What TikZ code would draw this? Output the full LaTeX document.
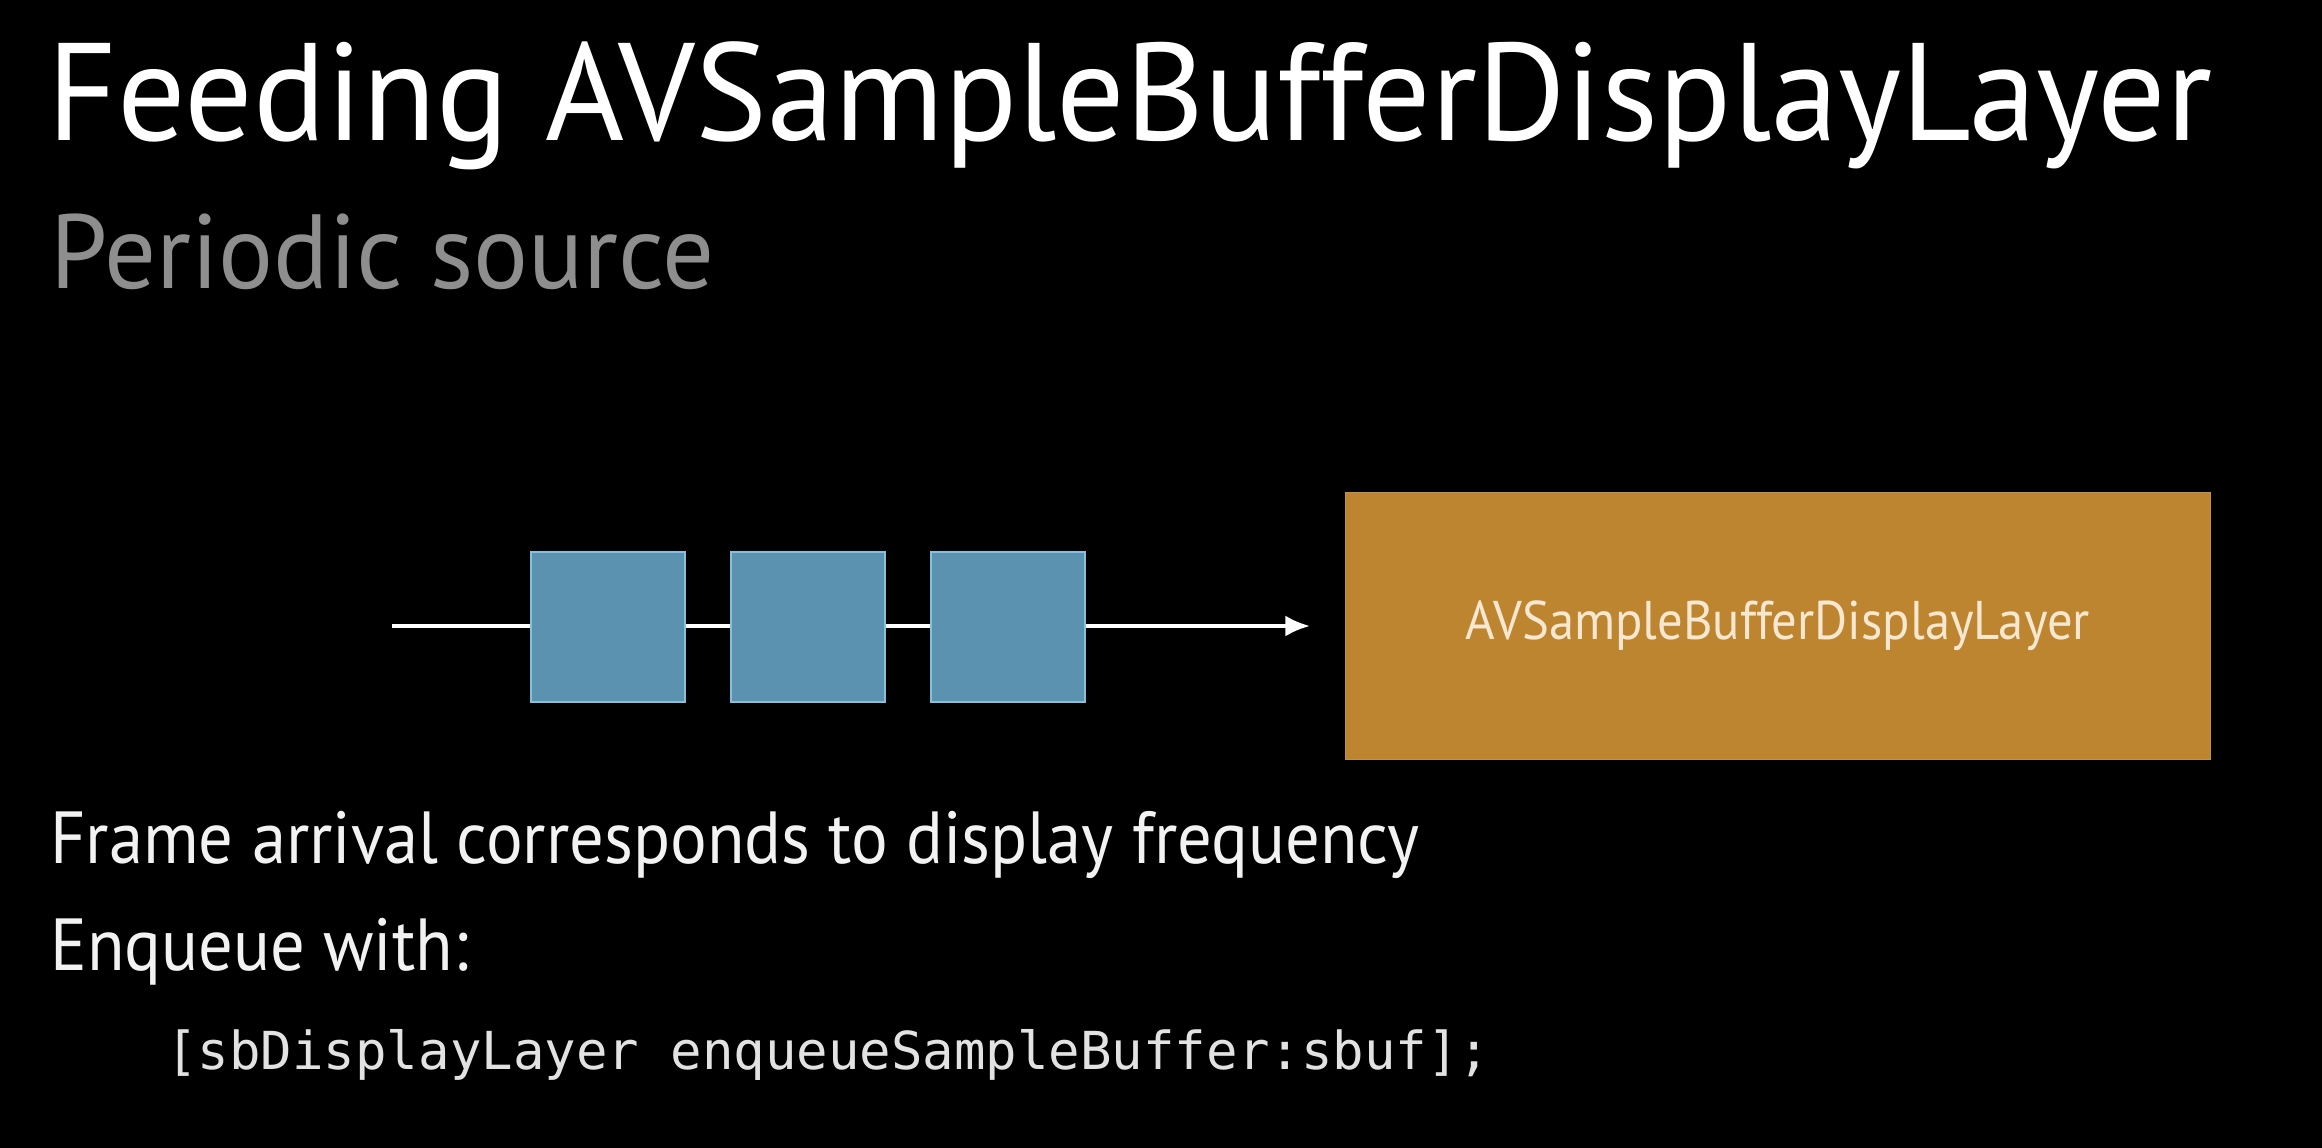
\documentclass[tikz,border=0pt]{standalone}
\usepackage{fontspec}
\setmainfont{PT Sans}
\setmonofont{DejaVu Sans Mono}
\newfontfamily\titlefont[FakeStretch=0.975]{PT Sans}
\newfontfamily\subfont[FakeStretch=0.974]{PT Sans}
\newfontfamily\bodyfont[FakeStretch=0.93]{PT Sans}
\usetikzlibrary{arrows.meta}
\definecolor{bluefill}{HTML}{5A92B0}
\definecolor{blueedge}{HTML}{86C0DC}
\definecolor{orangefill}{HTML}{BE8530}
\definecolor{orangetext}{HTML}{F6E8D0}
\definecolor{subgray}{HTML}{8E8E8E}
\definecolor{bodytext}{HTML}{F2F2F2}
\definecolor{codetext}{HTML}{E2E2E2}
\tikzset{
  frame/.style={draw=blueedge, fill=bluefill, line width=1.6pt, inner sep=0pt,
    minimum width=3.08cm, minimum height=3.0cm},
  layerbox/.style={fill=orangefill, draw=orangefill!90!white, line width=0.8pt, inner sep=0pt,
    minimum width=17.3cm, minimum height=5.34cm, text=orangetext,
    font=\bodyfont\fontsize{31}{36}\selectfont},
  feedline/.style={draw=white, line width=2.3pt, -{Latex[length=14pt,width=12pt]}},
  txt/.style={anchor=base west, inner sep=0pt},
}
\begin{document}
\begin{tikzpicture}[x=0.02cm,y=-0.02cm]
\fill[black] (0,0) rectangle (2322,1148);
\useasboundingbox (0,0) rectangle (2322,1148);
\node[txt, text=white, font=\titlefont\fontsize{79}{90}\selectfont] (title) at (47,141) {Feeding AVSampleBufferDisplayLayer};
\node[txt, text=subgray, font=\subfont\fontsize{60}{70}\selectfont] (subtitle) at (50,289) {Periodic source};
\coordinate (src) at (392,626);
\coordinate (tip) at (1310,626);
\draw[feedline] (src) -- (tip);
\node[frame] (f1) at (608,627) {};
\node[frame] (f2) at (808,627) {};
\node[frame] (f3) at (1008,627) {};
\node[layerbox] (layer) at (1778,626) {AVSampleBufferDisplayLayer};
\node[txt, text=bodytext, font=\bodyfont\fontsize{42}{50}\selectfont] (l1) at (50,863) {Frame arrival corresponds to display frequency};
\node[txt, text=bodytext, font=\bodyfont\fontsize{42}{50}\selectfont] (l2) at (50,970) {Enqueue with:};
\node[txt, text=codetext, font=\fontsize{29.8}{34}\ttfamily] (code) at (166,1069) {[sbDisplayLayer enqueueSampleBuffer:sbuf];};
\end{tikzpicture}
\end{document}
